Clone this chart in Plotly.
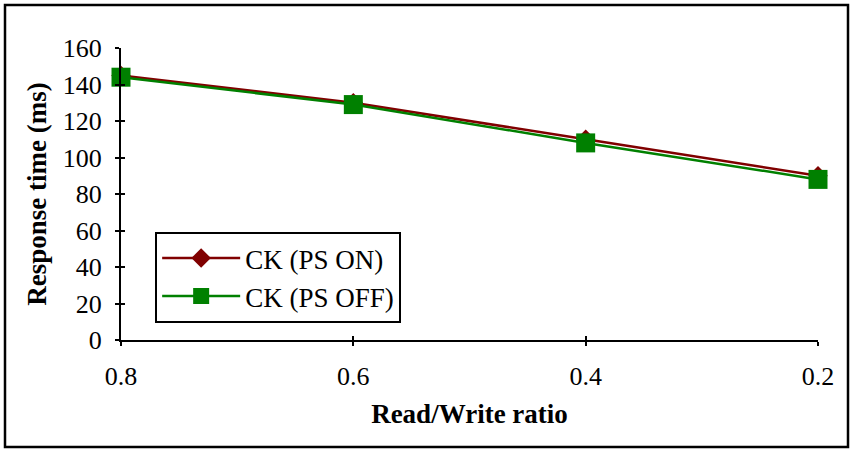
import plotly.graph_objects as go

ratio = [0.8, 0.6, 0.4, 0.2]
ratio_labels = ["0.8", "0.6", "0.4", "0.2"]
ps_on = [145, 130, 110, 90]
ps_off = [144, 129, 108, 88]
y_ticks = [0, 20, 40, 60, 80, 100, 120, 140, 160]

FONT = "Liberation Serif, Times New Roman, serif"
W, H = 853, 452
ML, MR, MT, MB = 121, 35, 48, 112
PW, PH = W - ML - MR, H - MT - MB

fig = go.Figure()
fig.add_trace(go.Scatter(
    x=ratio, y=ps_on, name="CK (PS ON)", mode="lines+markers",
    line=dict(color="#800000", width=2.5),
    marker=dict(symbol="diamond", size=15, color="#800000"),
    cliponaxis=False))
fig.add_trace(go.Scatter(
    x=ratio, y=ps_off, name="CK (PS OFF)", mode="lines+markers",
    line=dict(color="#008000", width=2.5),
    marker=dict(symbol="square", size=19, color="#008000"),
    cliponaxis=False))
# invisible trace to activate overlay axes (inner half of cross ticks)
fig.add_trace(go.Scatter(
    x=ratio, y=ps_on, xaxis="x2", yaxis="y2", mode="markers",
    marker=dict(opacity=0), showlegend=False, hoverinfo="skip"))

fig.update_layout(
    width=W, height=H,
    margin=dict(l=ML, r=MR, t=MT, b=MB, autoexpand=False),
    paper_bgcolor="white", plot_bgcolor="white",
    font=dict(family=FONT, size=26, color="black"),
    showlegend=True,
    legend=dict(x=0.049, y=0.37, xanchor="left", yanchor="top",
                bgcolor="white", bordercolor="black", borderwidth=2,
                font=dict(family=FONT, size=27, color="black"),
                itemwidth=78, tracegroupgap=0),
    xaxis=dict(range=[0.8, 0.2], tickvals=ratio, ticktext=ratio_labels,
               showgrid=False, zeroline=False, showline=True,
               linecolor="black", linewidth=2,
               ticks="outside", ticklen=4, tickwidth=2, tickcolor="black",
               ticklabelstandoff=8,
               title=dict(text="<b>Read/Write ratio</b>", standoff=14,
                          font=dict(family=FONT, size=27))),
    yaxis=dict(range=[0, 160], tickvals=y_ticks,
               showgrid=False, zeroline=False, showline=True,
               linecolor="black", linewidth=2,
               ticks="outside", ticklen=4, tickwidth=2, tickcolor="black",
               ticklabelstandoff=8,
               title=dict(text="<b>Response time (ms)</b>", standoff=8,
                          font=dict(family=FONT, size=27))),
    xaxis2=dict(overlaying="x", matches="x", tickvals=ratio,
                showticklabels=False, showgrid=False, zeroline=False,
                showline=False, ticks="inside", ticklen=4, tickwidth=2,
                tickcolor="black"),
    yaxis2=dict(overlaying="y", matches="y", tickvals=y_ticks,
                showticklabels=False, showgrid=False, zeroline=False,
                showline=False, ticks="inside", ticklen=4, tickwidth=2,
                tickcolor="black"),
    shapes=[dict(type="rect", xref="paper", yref="paper",
                 x0=(5 - ML) / PW, x1=(848 - ML) / PW,
                 y0=(H - MB - 447) / PH, y1=(H - MB - 5) / PH,
                 line=dict(color="black", width=2.5), layer="below")],
)

fig.write_html("out.html", config={"displayModeBar": False},
               post_script="document.body.style.margin='0';document.body.style.overflow='hidden';")
